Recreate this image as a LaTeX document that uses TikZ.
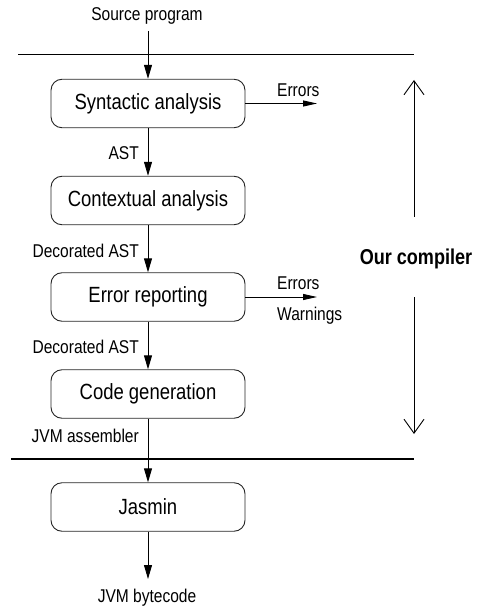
\documentclass[tikz,border=0pt]{standalone}
\usepackage{fontspec}
\setmainfont{Liberation Sans}[FakeStretch=0.84]
\usetikzlibrary{arrows.meta}
\begin{document}
\begin{tikzpicture}[x=1pt,y=-1pt,
  stage/.style={draw=black!85, line width=0.9pt, rounded corners=11pt,
    minimum width=194pt, minimum height=48.5pt, inner sep=0pt,
    font=\fontsize{22}{25}\selectfont},
  lbl/.style={font=\fontsize{18.5}{21}\selectfont, inner sep=0pt},
  boldlbl/.style={font=\fontsize{21.5}{24}\selectfont\bfseries, inner sep=0pt},
  flow/.style={line width=0.9pt, -{Triangle[length=14pt,width=8pt]}},
  sideflow/.style={line width=0.9pt, -{Triangle[length=14pt,width=6pt]}},
  bigarrow/.style={line width=0.9pt, -{Straight Barb[length=14pt,width=20pt]}},
  rulerline/.style={line width=1.2pt}]
\useasboundingbox (0,0) rectangle (479,609);

% stages
\node[stage] (s1) at (148,103.5) {Syntactic analysis};
\node[stage] (s2) at (148,200.5) {Contextual analysis};
\node[stage] (s3) at (148,297) {Error reporting};
\node[stage] (s4) at (148,394) {Code generation};
\node[stage] (s5) at (148,507) {Jasmin};

% horizontal rules
\draw[rulerline] (18,54.5) -- (414,54.5);
\draw[rulerline] (11,459) -- (414,459);

% labels
\node[lbl] (src) at (147,16) {Source program};
\node[lbl] (byte) at (147,598) {JVM bytecode};
\node[lbl, anchor=east] (ast) at (139,153) {AST};
\node[lbl, anchor=east] (dast1) at (139,251) {Decorated AST};
\node[lbl, anchor=east] (dast2) at (139,347) {Decorated AST};
\node[lbl, anchor=east] (jvma) at (139,436) {JVM assembler};
\node[lbl, anchor=west] (err1) at (277,90) {Errors};
\node[lbl, anchor=west] (err2) at (277,283) {Errors};
\node[lbl, anchor=west] (warn) at (277,316) {Warnings};
\node[boldlbl] (ours) at (416,259) {Our compiler};

% free ends
\coordinate (srcend) at (148,31);
\coordinate (byteend) at (148,579);
\coordinate (e1) at (317,103.5);
\coordinate (e2) at (317,297);
\coordinate (up1) at (414,217);
\coordinate (up2) at (414,80);
\coordinate (dn1) at (414,297);
\coordinate (dn2) at (414,434);

% flow
\draw[flow] (srcend) -- (s1.north);
\draw[flow] (s1.south) -- (s2.north);
\draw[flow] (s2.south) -- (s3.north);
\draw[flow] (s3.south) -- (s4.north);
\draw[flow] (s4.south) -- (s5.north);
\draw[flow] (s5.south) -- (byteend);
\draw[sideflow] (s1.east) -- (e1);
\draw[sideflow] (s3.east) -- (e2);
\draw[bigarrow] (up1) -- (up2);
\draw[bigarrow] (dn1) -- (dn2);
\end{tikzpicture}
\end{document}
